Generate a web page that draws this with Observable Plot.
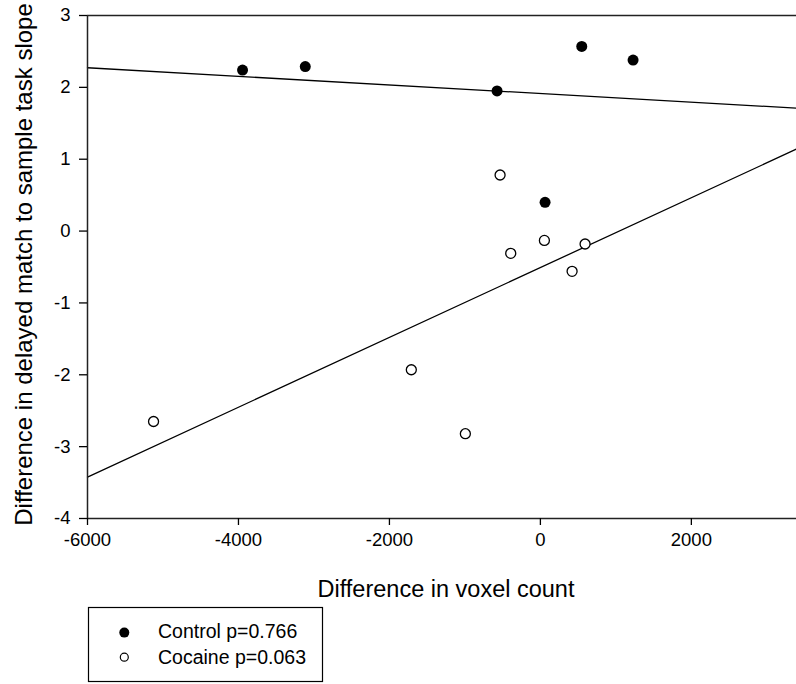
<!DOCTYPE html>
<html>
<head>
<meta charset="utf-8">
<script src="https://cdn.jsdelivr.net/npm/d3@7"></script>
<script src="https://cdn.jsdelivr.net/npm/@observablehq/plot@0.6"></script>
<style>
  html, body { margin: 0; padding: 0; background: #fff; }
  body { font-family: Arial, "Liberation Sans", sans-serif; }
  #chart { width: 796px; height: 684px; overflow: hidden; }
  #chart svg { display: block; }
</style>
</head>
<body>
<div id="chart"></div>
<script>
// ---- data ----
const controlX = [-3946, -3115, -574, 548, 1228, 62];
const controlY = [2.24, 2.29, 1.95, 2.57, 2.38, 0.40];
const cocaineX = [-5125, -1710, -994, -534, -393, 53, 420, 592];
const cocaineY = [-2.65, -1.93, -2.82, 0.78, -0.31, -0.13, -0.56, -0.18];
const seriesNames = ["Control", "Cocaine"];
const seriesP = ["0.766", "0.063"];
const xTicks = [-6000, -4000, -2000, 0, 2000];
const yTicks = [-4, -3, -2, -1, 0, 1, 2, 3];
const xDomain = [-6000, 3393];
const xTitle = "Difference in voxel count";
const yTitle = "Difference in delayed match to sample task slope";

const FONT = 'Arial, "Liberation Sans", sans-serif';

function toRows(xs, ys) { return xs.map((x, i) => ({x, y: ys[i]})); }
function fitLine(rows) {
  const mx = d3.mean(rows, d => d.x), my = d3.mean(rows, d => d.y);
  const sxy = d3.sum(rows, d => (d.x - mx) * (d.y - my));
  const sxx = d3.sum(rows, d => (d.x - mx) ** 2);
  const b = sxy / sxx, a = my - b * mx;
  return xDomain.map(x => ({x, y: a + b * x}));
}

const control = toRows(controlX, controlY);
const cocaine = toRows(cocaineX, cocaineY);

const plot = Plot.plot({
  width: 796,
  height: 604,
  marginLeft: 87,
  marginRight: 0,
  marginTop: 15,
  marginBottom: 86,
  style: {fontFamily: FONT, color: "#000", background: "#fff", overflow: "visible"},
  x: {domain: xDomain},
  y: {domain: [yTicks[0], yTicks[yTicks.length - 1]]},
  marks: [
    Plot.line(fitLine(control), {x: "x", y: "y", stroke: "#000", strokeWidth: 1.3}),
    Plot.line(fitLine(cocaine), {x: "x", y: "y", stroke: "#000", strokeWidth: 1.3}),
    Plot.ruleY([yTicks[yTicks.length - 1]], {stroke: "#222", strokeWidth: 1.5}),
    Plot.ruleY([yTicks[0]], {stroke: "#222", strokeWidth: 1.5}),
    Plot.ruleX([xDomain[0]], {stroke: "#222", strokeWidth: 1.5}),
    Plot.axisX({ticks: xTicks, tickSize: 7, tickPadding: 7, fontSize: 18.5, label: null,
                tickFormat: d => String(d), strokeWidth: 1.3}),
    Plot.axisY({ticks: yTicks, tickSize: 8, tickPadding: 9, fontSize: 18.5, label: null,
                tickFormat: d => String(d), strokeWidth: 1.3}),
    Plot.dot(control, {x: "x", y: "y", r: 5.5, fill: "#000", stroke: "none"}),
    Plot.dot(cocaine, {x: "x", y: "y", r: 5, fill: "#fff", stroke: "#000", strokeWidth: 1.3}),
    Plot.text([xTitle], {frameAnchor: "bottom", textAnchor: "middle", lineAnchor: "middle", dy: 71, dx: 4, fontSize: 23.5, fill: "#000"}),
    Plot.text([yTitle], {frameAnchor: "left", textAnchor: "middle", lineAnchor: "middle", rotate: -90, dx: -63, dy: -2.5, fontSize: 24, fill: "#000"})
  ]
});
document.getElementById("chart").appendChild(plot);

// ---- legend below the plot ----
const top0 = 604;
const leg = d3.select("#chart").append("svg")
  .attr("width", 796).attr("height", 80)
  .style("display", "block")
  .style("font-family", FONT);
leg.append("rect")
  .attr("x", 88.5).attr("y", 607.5 - top0)
  .attr("width", 234).attr("height", 74)
  .attr("fill", "#fff").attr("stroke", "#000").attr("stroke-width", 1.2);
const rowsY = [632.6, 657.2];
const baselines = [638.4, 664.3];
seriesNames.forEach((name, i) => {
  leg.append("circle")
    .attr("cx", 124.3).attr("cy", rowsY[i] - top0)
    .attr("r", i === 0 ? 5 : 4)
    .attr("fill", i === 0 ? "#000" : "#fff")
    .attr("stroke", "#000").attr("stroke-width", i === 0 ? 0 : 1.2);
  leg.append("text")
    .attr("x", 158).attr("y", baselines[i] - top0)
    .attr("font-size", 19.5).attr("fill", "#000")
    .text(`${name} p=${seriesP[i]}`);
});
</script>
</body>
</html>
